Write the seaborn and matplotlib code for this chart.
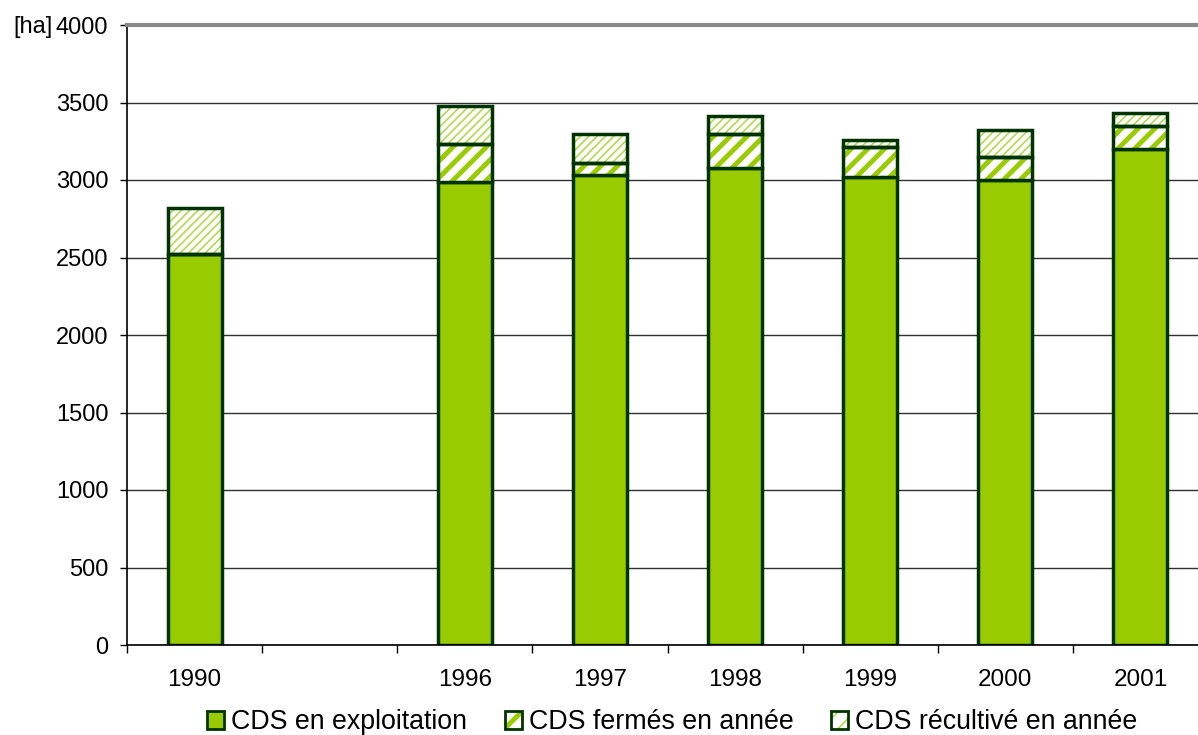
import numpy as np
import pandas as pd
import seaborn as sns
import matplotlib.pyplot as plt
from matplotlib.patches import Patch

# values (ha)
years = ['1990', '1996', '1997', '1998', '1999', '2000', '2001']
order = ['1990', ' ', '1996', '1997', '1998', '1999', '2000', '2001']
exploitation = [2520, 2990, 3030, 3080, 3020, 3000, 3200]
fermes = [0, 240, 80, 220, 190, 150, 150]
recultive = [300, 250, 190, 110, 50, 170, 80]
yticks = [0, 500, 1000, 1500, 2000, 2500, 3000, 3500, 4000]
labels = ['CDS en exploitation', 'CDS fermés en année', 'CDS récultivé en année']

green = '#99CC00'
light = '#b3d94d'
dark = '#003300'

df = pd.DataFrame({'year': years, 'exploitation': exploitation,
                   'fermes': fermes, 'recultive': recultive})
df['b2'] = df['exploitation'] + df['fermes']

plt.rcParams['font.family'] = ['Liberation Sans', 'DejaVu Sans']

fig = plt.figure(figsize=(11.98, 7.35), dpi=100)
ax = fig.add_axes([127 / 1198, 90 / 735, 1081 / 1198, 620 / 735])

common = dict(x='year', order=order, width=0.4, errorbar=None, ax=ax)

# exploitation
sns.barplot(data=df, y='exploitation', color=green, edgecolor=dark,
            linewidth=2.5, saturation=1, **common)

# fermés (thick hatch)
with plt.rc_context({'hatch.linewidth': 3.5}):
    sns.barplot(data=df, y='fermes', bottom=df['exploitation'], color='white',
                edgecolor=green, hatch='//', linewidth=0, saturation=1, **common)
# récultivé (fine hatch)
with plt.rc_context({'hatch.linewidth': 1.2}):
    sns.barplot(data=df, y='recultive', bottom=df['b2'], color='white',
                edgecolor=light, hatch='////', linewidth=0, saturation=1, **common)

# outlines
sns.barplot(data=df, y='fermes', bottom=df['exploitation'], fill=False,
            color=dark, linewidth=2.5, **common)
sns.barplot(data=df, y='recultive', bottom=df['b2'], fill=False,
            color=dark, linewidth=2.5, **common)

ax.set_xlim(-0.5, len(order) - 0.5)
ax.set_ylim(0, 4000)
ax.set_yticks(yticks)
ax.set_axisbelow(True)
ax.yaxis.grid(True, color='#303030', linewidth=1)
ax.set_xlabel('')
ax.set_ylabel('')

ax.set_xticks(range(len(order)))
ax.set_xticklabels([o.strip() for o in order])
ax.set_xticks(np.arange(-0.5, len(order), 1), minor=True)
ax.tick_params(axis='x', which='major', length=0, pad=17, labelsize=17.5)
ax.tick_params(axis='x', which='minor', length=6, width=1, color='black')
ax.tick_params(axis='y', length=5, width=1, pad=8.5, labelsize=17)

for s in ['left', 'bottom']:
    ax.spines[s].set_color('black')
    ax.spines[s].set_linewidth(1.2)
ax.spines['top'].set_color('#888888')
ax.spines['top'].set_linewidth(3)
ax.spines['right'].set_visible(False)

ax.text(-0.069, 4000, '[ha]', transform=ax.get_yaxis_transform(),
        ha='right', va='center_baseline', fontsize=17)

handles = [
    Patch(facecolor=green, edgecolor=dark, linewidth=2),
    (Patch(facecolor='white', edgecolor=green, hatch='/', linewidth=0),
     Patch(facecolor='none', edgecolor=dark, linewidth=2)),
    (Patch(facecolor='white', edgecolor=light, hatch='//', linewidth=0),
     Patch(facecolor='none', edgecolor=dark, linewidth=2)),
]
with plt.rc_context({'hatch.linewidth': 3.5}):
    leg = fig.legend(handles, labels, loc='center',
                     bbox_to_anchor=(0.561, 1 - 722 / 735),
                     ncol=3, frameon=False, fontsize=19.3, handlelength=0.65,
                     handleheight=0.65, handletextpad=0.25, columnspacing=1.4)
for p in leg.findobj(Patch):
    if p.get_hatch() == '//' and hasattr(p, 'set_hatch_linewidth'):
        p.set_hatch_linewidth(1.2)

fig.savefig('out.png', dpi=100)
